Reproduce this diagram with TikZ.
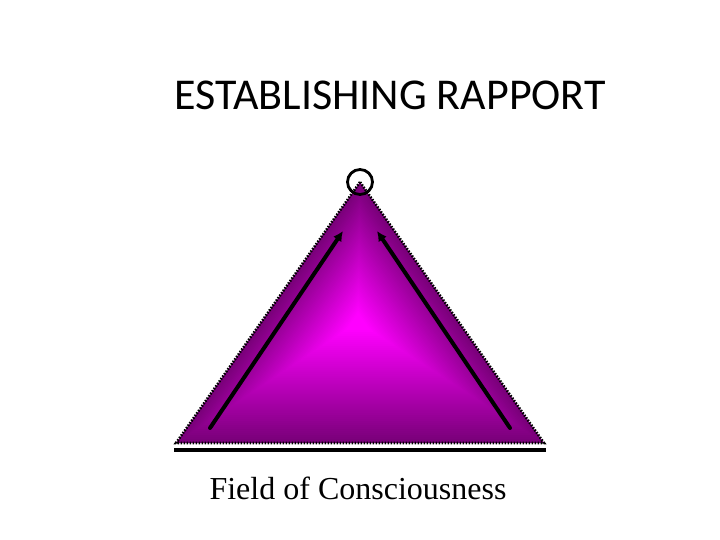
\documentclass[tikz,border=0pt]{standalone}
\usepackage{fontspec}
\usetikzlibrary{arrows.meta,calc}
\setmainfont{Liberation Serif}
\newfontfamily\titlefont{Carlito}
\begin{document}
\begin{tikzpicture}[x=1pt,y=-1pt,
  titletext/.style={font=\titlefont\fontsize{44}{48}\selectfont, inner sep=0pt, anchor=base},
  captiontext/.style={font=\fontsize{32}{36}\selectfont, inner sep=0pt, anchor=base},
  arrowline/.style={line width=4pt, line cap=round, -{Latex[length=10pt,width=10pt]}},
  dotborder/.style={line width=2.6pt, dash pattern=on 1.5pt off 1.5pt},
]
\useasboundingbox (0,0) rectangle (720,540);
\fill[white] (0,0) rectangle (720,540);
\definecolor{innermag}{RGB}{255,0,255}
\definecolor{outerpurp}{RGB}{120,0,120}
% title
\node[titletext] (title) at (390,110) {ESTABLISHING RAPPORT};
% triangle
\coordinate (apex) at (360,182);
\coordinate (bl) at (176,443);
\coordinate (br) at (544,443);
\coordinate (ctr) at (358,322);
% path gradient approximation: nested scaled triangles
\foreach \i in {0,...,59}{
  \pgfmathsetmacro{\s}{1-\i/60}
  \pgfmathsetmacro{\p}{min(100,\i*100/56)}
  \fill[innermag!\p!outerpurp]
    ($(ctr)!\s!(apex)$) -- ($(ctr)!\s!(bl)$) -- ($(ctr)!\s!(br)$) -- cycle;
}
\draw[dotborder] (apex) -- (bl) -- (br) -- cycle;
% base line
\coordinate (basel) at (174,450);
\coordinate (baser) at (546,450);
\draw[line width=3.5pt] (basel) -- (baser);
% circle at apex
\node[draw, circle, line width=2.8pt, minimum size=25pt, inner sep=0pt] (topcircle) at (360,182) {};
% arrows
\coordinate (la) at (210,428);
\coordinate (lb) at (343,231);
\coordinate (ra) at (510,428);
\coordinate (rb) at (377,231);
\draw[arrowline] (la) -- (lb);
\draw[arrowline] (ra) -- (rb);
% caption
\node[captiontext] (caption) at (358,499) {Field of Consciousness};
\end{tikzpicture}
\end{document}
